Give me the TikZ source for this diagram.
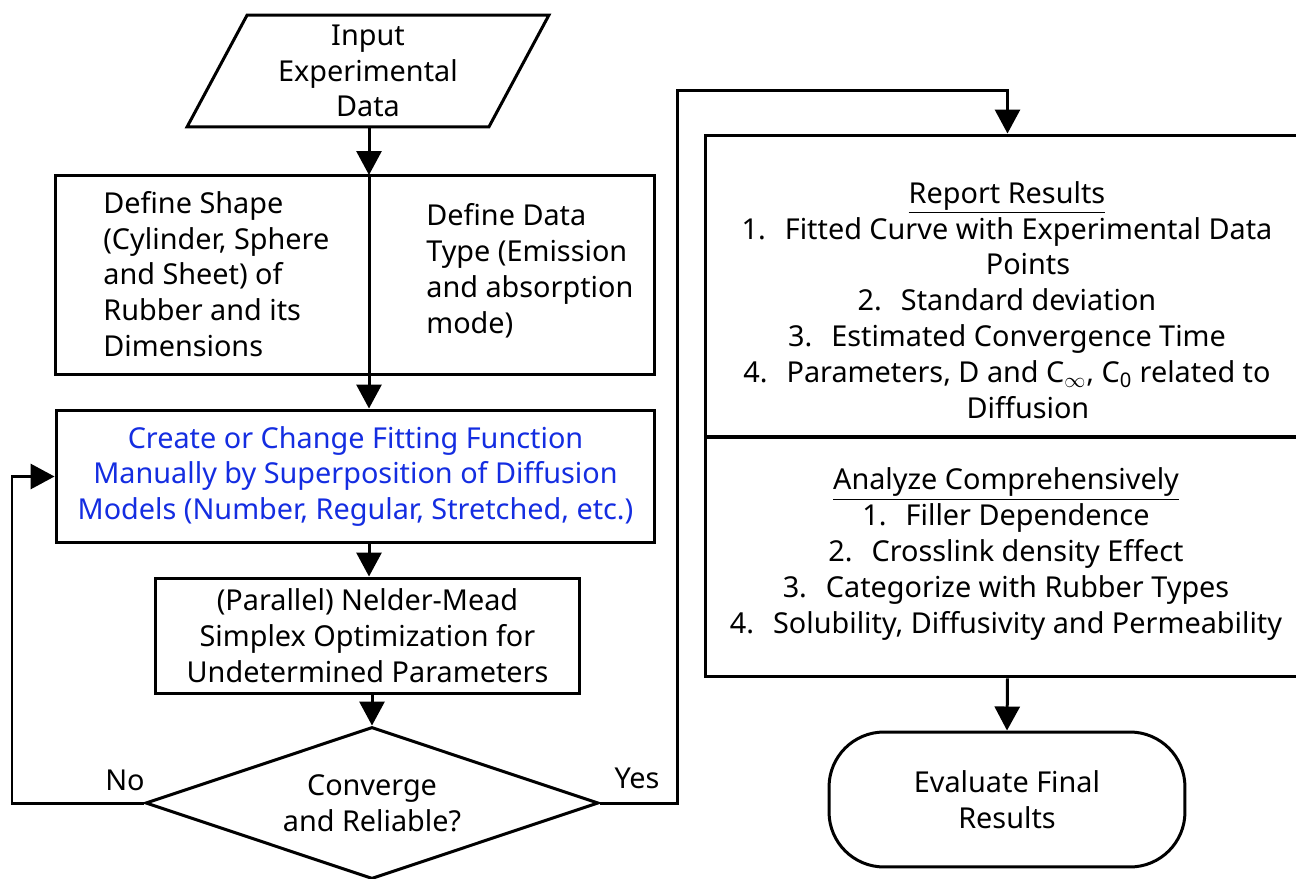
\documentclass[tikz,border=0pt]{standalone}
\usepackage{fontspec}
\setmainfont{Noto Sans}
\usetikzlibrary{positioning, arrows.meta, shapes.geometric}
\definecolor{fitblue}{RGB}{20,45,225}
\newcommand{\numitem}[1]{#1.\hspace{0.38cm}}
\tikzset{
  box/.style={draw, line width=0.06cm, rectangle, inner sep=0pt},
  txt/.style={font=\fontsize{16.4}{20.4}\selectfont, inner sep=0pt},
  flow/.style={line width=0.06cm, -{Triangle[width=0.5cm,length=0.48cm]}},
  link/.style={line width=0.06cm},
}
\begin{document}
\begin{tikzpicture}[x=0.02cm, y=-0.02cm]
  \useasboundingbox (0,0) rectangle (1296,879);
  % left column
  \node[box, trapezium, trapezium left angle=57, trapezium right angle=123, trapezium stretches body,
        minimum width=7.24cm, minimum height=2.24cm, txt, align=center] (input) at (368,71)
        {Input\\Experimental\\Data};
  \node[box, minimum width=12cm, minimum height=4cm] (shape) at (355,275) {};
  \node[txt, align=left, anchor=west] (shapetxt) at (103,274)
        {Define Shape\\(Cylinder, Sphere\\and Sheet) of\\Rubber and its\\Dimensions};
  \node[txt, align=left, anchor=west] (typetxt) at (426,271)
        {Define Data\\Type (Emission\\and absorption\\mode)};
  \coordinate (divtop) at (369,175);
  \coordinate (divbot) at (369,375);
  \node[box, txt, text=fitblue, align=center, minimum width=11.98cm, minimum height=2.66cm] (fit) at (355.5,476.5)
        {Create or Change Fitting Function\\Manually by Superposition of Diffusion\\Models (Number, Regular, Stretched, etc.)};
  \node[box, txt, align=center, minimum width=8.5cm, minimum height=2.32cm] (nm) at (367.5,636)
        {(Parallel) Nelder-Mead\\Simplex Optimization for\\Undetermined Parameters};
  \node[box, diamond, aspect=3, txt, align=center, minimum width=9.06cm, minimum height=3.04cm] (conv) at (372,803)
        {Converge\\and Reliable?};
  \node[txt] (nolbl) at (125,780) {No};
  \node[txt] (yeslbl) at (637,778) {Yes};
  % right column
  \node[box, minimum width=12.1cm, minimum height=6.04cm] (report) at (1007.5,286) {};
  \node[txt, align=center] (reporttxt) at (1007,300)
        {\underline{Report Results}\\
         \numitem{1}Fitted Curve with Experimental Data\\
         \hspace*{0.84cm}Points\\
         \numitem{2}Standard deviation\\
         \numitem{3}Estimated Convergence Time\\
         \numitem{4}Parameters, D and C\textsubscript{$\infty$}, C\textsubscript{0} related to\\
         \hspace*{0.84cm}Diffusion};
  \node[box, minimum width=12.1cm, minimum height=4.8cm] (analyze) at (1007.5,557) {};
  \node[txt, align=center] (analyzetxt) at (1006,554)
        {\underline{Analyze Comprehensively}\\
         \numitem{1}Filler Dependence\\
         \numitem{2}Crosslink density Effect\\
         \numitem{3}Categorize with Rubber Types\\
         \numitem{4}Solubility, Diffusivity and Permeability};
  \node[box, rounded corners=1.1cm, txt, align=center, minimum width=7.12cm, minimum height=2.7cm] (final) at (1007,799.5)
        {Evaluate Final\\Results};
  \coordinate (yesturn) at (677,90);
  % connectors
  \draw[flow] (input.south -| divtop) -- (divtop);
  \draw[link] (divtop) -- (divbot);
  \draw[flow] (divbot) -- (fit.north -| divbot);
  \draw[flow] (fit.south -| divbot) -- (nm.north -| divbot);
  \draw[flow] (nm.south -| conv.north) -- (conv.north);
  \draw[flow] (conv.west) -- (12,803) |- (fit.west);
  \draw[flow] (conv.east) -| (yesturn) -| (report.north);
  \draw[flow] (analyze.south) -- (final.north);
\end{tikzpicture}
\end{document}
